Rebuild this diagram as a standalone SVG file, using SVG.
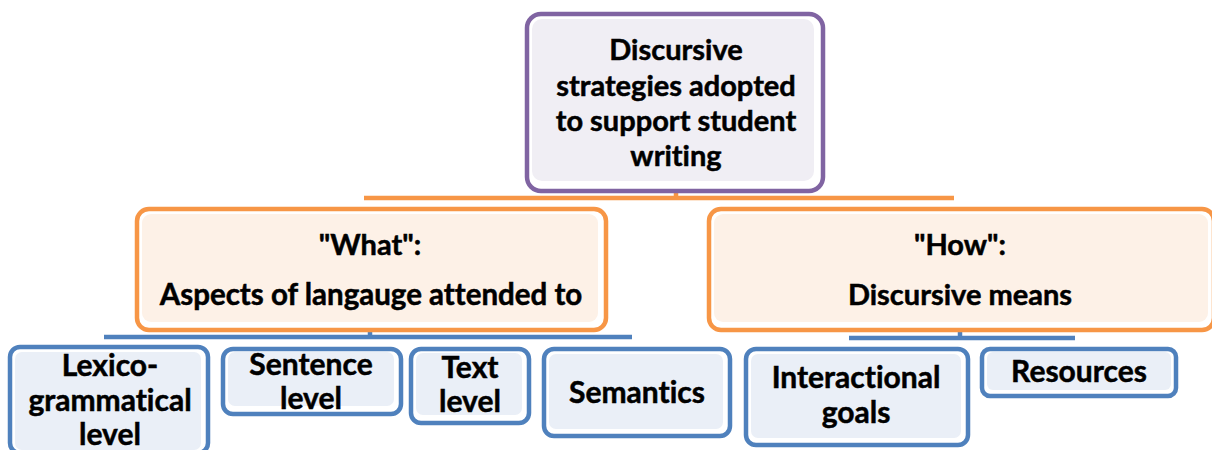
<svg xmlns="http://www.w3.org/2000/svg" width="1212" height="450" viewBox="0 0 1212 450">
<style>
.t{font-family:Lato,"Liberation Sans",sans-serif;font-weight:bold;fill:#000;stroke:#000;stroke-width:0.5;text-anchor:middle;font-variant-ligatures:none}
.big{font-size:29px}
.wide{font-size:29.5px}
.mid{font-size:30px}
.pb{fill:#fff;stroke:#8064A2;stroke-width:4.5}
.pf{fill:#F0EEF4}
.ob{fill:#fff;stroke:#F79646;stroke-width:4.5}
.of{fill:#FDF1E7}
.bb{fill:#fff;stroke:#4F81BD;stroke-width:4.5}
.bf{fill:#EAEFF7}
.co{stroke:#F79646;stroke-width:4.5;fill:none}
.cb{stroke:#4F81BD;stroke-width:4.5;fill:none}
</style>
<rect width="1212" height="450" fill="#fff"/>
<g id="connectors">
<line class="co" x1="676" y1="191" x2="676" y2="198"/>
<line class="co" x1="364" y1="198" x2="954" y2="198"/>
<line class="cb" x1="370" y1="330" x2="370" y2="337"/>
<line class="cb" x1="104" y1="337" x2="632" y2="337"/>
<line class="cb" x1="960" y1="330" x2="960" y2="338"/>
<line class="cb" x1="849" y1="338" x2="1075" y2="338"/>
</g>
<g id="root">
<rect class="pb" x="527" y="14" width="296" height="177" rx="14"/>
<rect class="pf" x="532" y="19" width="282" height="162" rx="10"/>
<text class="t big" x="676" y="60">Discursive</text>
<text class="t big" x="676" y="96">strategies adopted</text>
<text class="t big" x="676" y="131">to support student</text>
<text class="t big" x="676" y="166">writing</text>
</g>
<g id="what">
<rect class="ob" x="137" y="209" width="469" height="121" rx="12"/>
<rect class="of" x="142" y="214" width="456" height="108" rx="9"/>
<text class="t big" x="370" y="255">"What":</text>
<text class="t wide" x="371" y="305">Aspects of langauge attended to</text>
</g>
<g id="how">
<rect class="ob" x="709" y="209" width="505" height="121" rx="12"/>
<rect class="of" x="714" y="214" width="494" height="108" rx="9"/>
<text class="t big" x="960" y="255">"How":</text>
<text class="t big" x="960" y="305">Discursive means</text>
</g>
<g id="lexico">
<rect class="bb" x="10" y="347" width="198" height="106" rx="10"/>
<rect class="bf" x="15" y="352" width="186" height="98" rx="7"/>
<text class="t mid" x="110" y="376">Lexico-</text>
<text class="t mid" x="110" y="411">grammatical</text>
<text class="t mid" x="110" y="445">level</text>
</g>
<g id="sentence">
<rect class="bb" x="223" y="349" width="178" height="65" rx="10"/>
<rect class="bf" x="228" y="352" width="166" height="54" rx="7"/>
<text class="t mid" x="311" y="375">Sentence</text>
<text class="t mid" x="311" y="409">level</text>
</g>
<g id="text">
<rect class="bb" x="411" y="349" width="118" height="74" rx="10"/>
<rect class="bf" x="416" y="353" width="106" height="62" rx="7"/>
<text class="t mid" x="470" y="378">Text</text>
<text class="t mid" x="470" y="412">level</text>
</g>
<g id="semantics">
<rect class="bb" x="544" y="349" width="186" height="87" rx="10"/>
<rect class="bf" x="549" y="354" width="174" height="75" rx="7"/>
<text class="t mid" x="637" y="403">Semantics</text>
</g>
<g id="interactional">
<rect class="bb" x="746" y="349" width="222" height="96" rx="10"/>
<rect class="bf" x="751" y="354" width="210" height="84" rx="7"/>
<text class="t mid" x="856" y="388">Interactional</text>
<text class="t mid" x="856" y="423">goals</text>
</g>
<g id="resources">
<rect class="bb" x="982" y="349" width="194" height="47" rx="8"/>
<rect class="bf" x="987" y="352" width="184" height="38" rx="6"/>
<text class="t mid" x="1079" y="382">Resources</text>
</g>
</svg>
